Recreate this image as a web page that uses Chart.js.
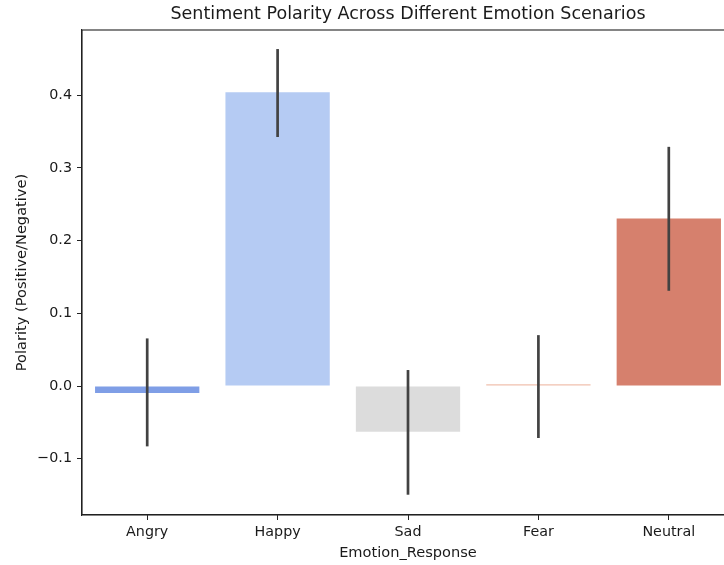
<!DOCTYPE html>
<html>
<head>
<meta charset="utf-8">
<script src="https://cdn.jsdelivr.net/npm/chart.js@4.4.1/dist/chart.umd.min.js"></script>
<style>
  html, body { margin: 0; padding: 0; background: #fff; }
  #wrap { width: 724px; height: 565px; overflow: hidden; position: relative; }
  canvas { display: block; }
</style>
</head>
<body>
<div id="wrap"><canvas id="c" width="816" height="565"></canvas></div>
<script>
const categories = ["Angry", "Happy", "Sad", "Fear", "Neutral"];
const polarity   = [-0.0095, 0.404, -0.063, 0.0025, 0.2305];
const errLow     = [-0.083, 0.3425, -0.1495, -0.0715, 0.131];
const errHigh    = [0.0655, 0.4635, 0.022, 0.070, 0.329];
const barColors  = ["#7f9ee6", "#b5cbf3", "#dcdcdc", "#f0c0ae", "#d6806d"];
const yTicks     = [-0.1, 0.0, 0.1, 0.2, 0.3, 0.4];
const titleText  = 'Sentiment Polarity Across Different Emotion Scenarios';

const FONT = "'DejaVu Sans', sans-serif";

const errorBars = {
  id: 'errorBars',
  afterDatasetsDraw(chart) {
    const ctx = chart.ctx, xs = chart.scales.x, ys = chart.scales.y;
    ctx.save();
    ctx.strokeStyle = '#424242';
    ctx.lineWidth = 2.7;
    ctx.lineCap = 'butt';
    for (let i = 0; i < categories.length; i++) {
      const x = xs.getPixelForValue(i);
      ctx.beginPath();
      ctx.moveTo(x, ys.getPixelForValue(errLow[i]));
      ctx.lineTo(x, ys.getPixelForValue(errHigh[i]));
      ctx.stroke();
    }
    ctx.restore();
  }
};

const frame = {
  id: 'frame',
  afterDraw(chart) {
    const a = chart.chartArea, ctx = chart.ctx;
    ctx.save();
    ctx.strokeStyle = '#222';
    ctx.lineWidth = 1.1;
    ctx.strokeRect(a.left, a.top, a.right - a.left, a.bottom - a.top);
    // axes title centred over the plot area
    ctx.fillStyle = '#1a1a1a';
    ctx.font = "17.5px " + FONT;
    ctx.textAlign = 'center';
    ctx.textBaseline = 'middle';
    ctx.fillText(titleText, (a.left + a.right) / 2, 14.5);
    ctx.restore();
  }
};

new Chart(document.getElementById('c'), {
  type: 'bar',
  data: {
    labels: categories,
    datasets: [{
      data: polarity,
      backgroundColor: barColors,
      borderWidth: 0,
      categoryPercentage: 0.8,
      barPercentage: 1.0
    }]
  },
  options: {
    responsive: false,
    animation: false,
    devicePixelRatio: 1,
    layout: { padding: { left: 0, right: 82, top: 30, bottom: 0 } },
    plugins: {
      legend: { display: false },
      tooltip: { enabled: false },
      title: { display: false }
    },
    scales: {
      x: {
        type: 'category',
        offset: true,
        grid: { display: true, drawOnChartArea: false, drawTicks: true, tickLength: 5, color: '#222', offset: false },
        border: { display: true, color: '#222', width: 1.1 },
        ticks: { color: '#1a1a1a', font: { family: FONT, size: 14.3 }, padding: 4, maxRotation: 0 },
        title: { display: true, text: 'Emotion_Response', color: '#1a1a1a', font: { family: FONT, size: 14.6 }, padding: { top: 2, bottom: 3 } },
        afterFit(s) { s.height = 50; }
      },
      y: {
        min: -0.1774,
        max: 0.4897,
        grid: { display: true, drawOnChartArea: false, drawTicks: true, tickLength: 5, color: '#222' },
        border: { display: true, color: '#222', width: 1.1 },
        afterBuildTicks(s) { s.ticks = yTicks.map(v => ({ value: v })); },
        ticks: {
          color: '#1a1a1a',
          font: { family: FONT, size: 14.3 },
          padding: 5,
          callback: v => (v < 0 ? '\u2212' : '') + Math.abs(v).toFixed(1)
        },
        title: { display: true, text: 'Polarity (Positive/Negative)', color: '#1a1a1a', font: { family: FONT, size: 14.6 }, padding: { top: 13, bottom: 4 } },
        afterFit(s) { s.width = 82; }
      }
    }
  },
  plugins: [errorBars, frame]
});
</script>
</body>
</html>
